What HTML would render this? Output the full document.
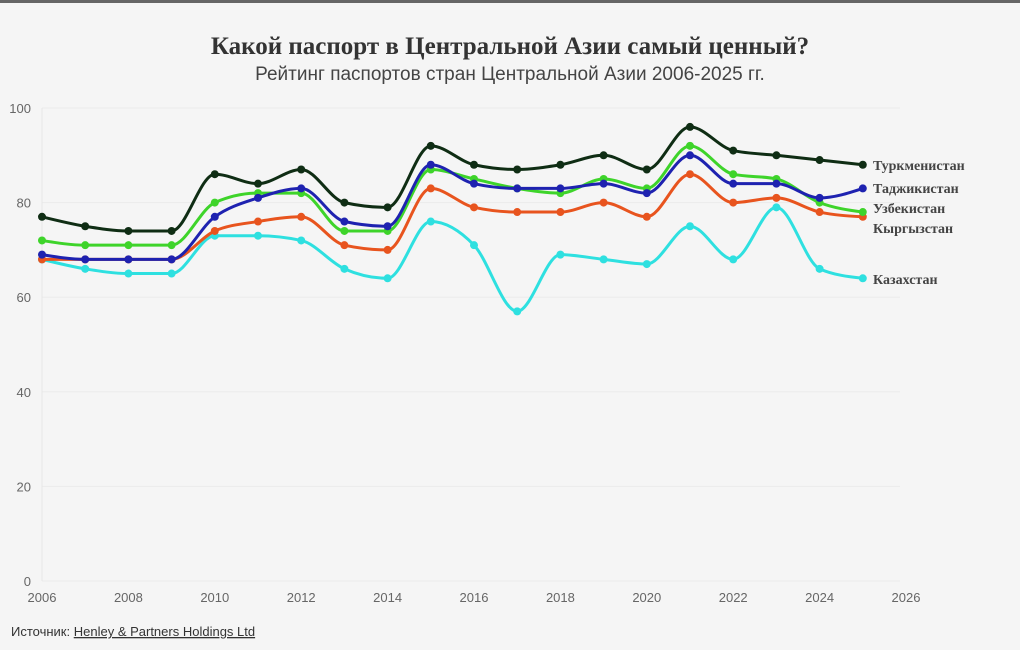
<!DOCTYPE html>
<html><head><meta charset="utf-8"><style>
body{margin:0;background:#f5f5f5;width:1020px;height:650px;overflow:hidden;font-family:"Liberation Sans",sans-serif}
#top{position:absolute;left:0;top:0;width:1020px;height:3px;background:#666}
</style></head><body>
<div id="top"></div>
<svg id="s" width="1020" height="650" style="position:absolute;left:0;top:0">
<text x="510" y="54" text-anchor="middle" font-family="Liberation Serif" font-weight="bold" font-size="25" fill="#333">Какой паспорт в Центральной Азии самый ценный?</text>
<text x="510" y="80" text-anchor="middle" font-family="Liberation Sans" font-size="19" fill="#444">Рейтинг паспортов стран Центральной Азии 2006-2025 гг.</text>
<text x="11" y="636" font-size="13" fill="#333">Источник: <tspan text-decoration="underline">Henley &amp; Partners Holdings Ltd</tspan></text>
</svg>
<script>
var s=document.getElementById('s'),NS='http://www.w3.org/2000/svg';
function X(y){return 42+(y-2006)*43.2}function Y(v){return 581-v*4.73}
function el(t,a,txt){var e=document.createElementNS(NS,t);for(var k in a)e.setAttribute(k,a[k]);if(txt!==undefined)e.textContent=String(txt);s.appendChild(e);return e}
for(var v=0;v<=100;v+=20){el('line',{x1:42,x2:900,y1:Y(v),y2:Y(v),stroke:'#ebebeb'});el('text',{x:31,y:Y(v)+5,'text-anchor':'end','font-size':13,fill:'#666'},v)}
el('line',{x1:42,x2:42,y1:108,y2:581,stroke:'#e6e6e6'});
for(var y=2006;y<=2026;y+=2)el('text',{x:X(y),y:602,'text-anchor':'middle','font-size':13,fill:'#666'},y);
var D=[
['#2ee0e0',[68,66,65,65,73,73,72,66,64,76,71,57,69,68,67,75,68,79,66,64],'Казахстан',284],
['#e8541e',[68,68,68,68,74,76,77,71,70,83,79,78,78,80,77,86,80,81,78,77],'Кыргызстан',233],
['#3ed42a',[72,71,71,71,80,82,82,74,74,87,85,83,82,85,83,92,86,85,80,78],'Узбекистан',213],
['#1e22b0',[69,68,68,68,77,81,83,76,75,88,84,83,83,84,82,90,84,84,81,83],'Таджикистан',193],
['#0f2d14',[77,75,74,74,86,84,87,80,79,92,88,87,88,90,87,96,91,90,89,88],'Туркменистан',170]];
function sign(x){return x<0?-1:1}
D.forEach(function(d){var p=d[1].map(function(v,i){return[X(2006+i),Y(v)]});var n=p.length,h=43.2;
var sl=[];for(var i=0;i<n-1;i++)sl.push((p[i+1][1]-p[i][1])/h);
var m=[];for(i=0;i<n;i++){if(i==0)m.push(sl[0]);else if(i==n-1)m.push(sl[n-2]);else{var a=sl[i-1],b=sl[i];m.push((sign(a)+sign(b))*Math.min(Math.abs(a),Math.abs(b),0.5*Math.abs((a+b)/2))||0)}}
m[0]=(3*sl[0]-m[1])/2;m[n-1]=(3*sl[n-2]-m[n-2])/2;
var str='M'+p[0];for(i=0;i<n-1;i++){var dx=h/3;
str+='C'+(p[i][0]+dx)+','+(p[i][1]+m[i]*dx)+' '+(p[i+1][0]-dx)+','+(p[i+1][1]-m[i+1]*dx)+' '+p[i+1][0]+','+p[i+1][1]}
el('path',{d:str,fill:'none',stroke:d[0],'stroke-width':3});
p.forEach(function(q){el('circle',{cx:q[0],cy:q[1],r:4,fill:d[0]})});
el('text',{x:873,y:d[3],'font-family':'Liberation Serif','font-weight':'bold','font-size':14,fill:'#444'},d[2]);});
</script>
</body></html>
